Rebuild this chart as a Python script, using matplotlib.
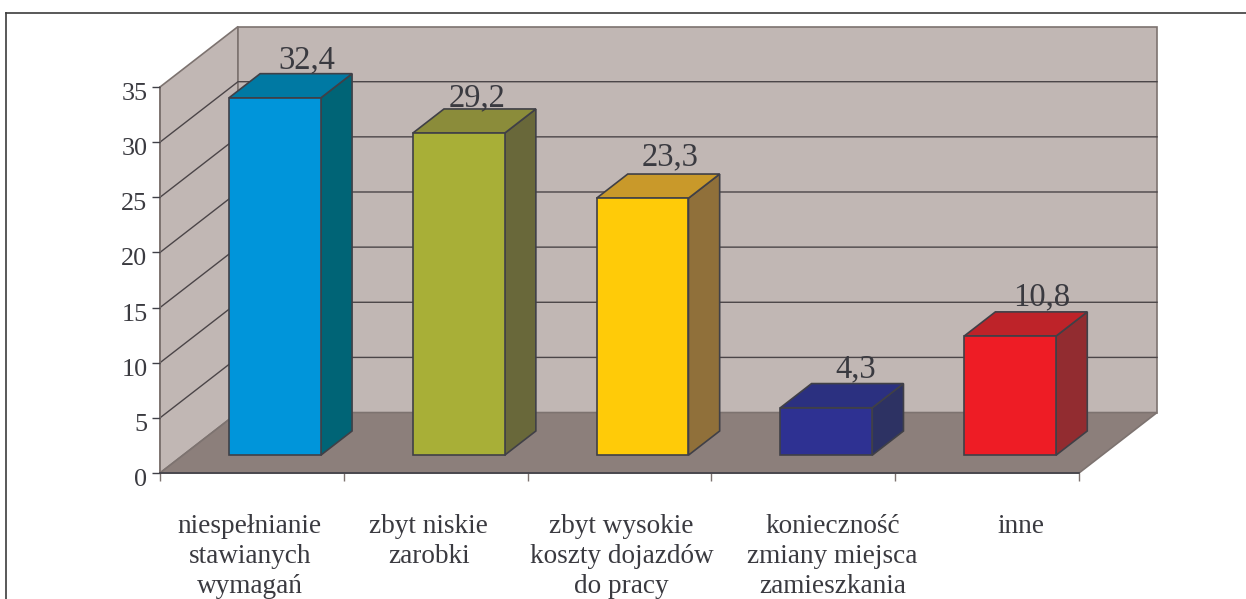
"""Pseudo-3D column chart: wall, floor and bars are projected from data units."""

import matplotlib

matplotlib.use("Agg")
import matplotlib.pyplot as plt
from matplotlib.lines import Line2D
from matplotlib.transforms import ScaledTranslation

plt.rcParams["font.family"] = ["Liberation Serif", "DejaVu Serif"]

categories = [
    "niespełnianie\nstawianych\nwymagań",
    "zbyt niskie\nzarobki",
    "zbyt wysokie\nkoszty dojazdów\ndo pracy",
    "konieczność\nzmiany miejsca\nzamieszkania",
    "inne",
]
values = [32.4, 29.2, 23.3, 4.3, 10.8]
labels = ["32,4", "29,2", "23,3", "4,3", "10,8"]
yticks = [0, 5, 10, 15, 20, 25, 30, 35]

front_colors = ["#0095da", "#a8af37", "#ffcb08", "#2e3192", "#ee1c25"]
top_colors = ["#0079a3", "#8b8c3a", "#c9992a", "#2b3080", "#be2329"]
side_colors = ["#006476", "#69683a", "#90703a", "#2d3263", "#922c30"]

WALL = "#c1b7b4"
FLOOR = "#8c7f7b"
EDGE = "#404047"
WALL_EDGE = "#7d7370"
TEXT = "#3a3a40"

# depth vector of the whole plot box, in slots and value units
DEPTH_X = 0.4244
DEPTH_Y = 5.48
BAR_WIDTH = 0.5
BAR_NEAR = 0.295
BAR_FAR = 0.695
# small hand nudges of the text (pixels)
label_dx = [1, -13, -4, -2, 0]
label_dy = [5, 3, 9, 6, 7]
category_dx = [-2, -7, 2, 29, 34]


def proj(x, y, d):
    return x + d * DEPTH_X, y + d * DEPTH_Y


def face(ax, corners, color, edge, lw=1.2, zorder=2):
    xs, ys = zip(*[proj(*c) for c in corners])
    ax.fill(xs, ys, facecolor=color, edgecolor=edge, linewidth=lw,
            joinstyle="miter", clip_on=False, zorder=zorder)


W, H = 1246, 599
fig = plt.figure(figsize=(W / 100, H / 100), dpi=100, facecolor="white")
ax = fig.add_axes([160 / W, 1 - 473 / H, 919 / W, 386 / H])
ax.set_xlim(0, len(categories))
ax.set_ylim(0, 35)
ax.patch.set_visible(False)
for side in ("top", "right"):
    ax.spines[side].set_visible(False)
ax.spines["left"].set_color(WALL_EDGE)
ax.spines["left"].set_linewidth(1.2)
ax.spines["bottom"].set_color(EDGE)
ax.spines["bottom"].set_linewidth(1.2)
ax.spines["left"].set_zorder(1.5)

n = len(categories)
top = yticks[-1]

# walls and floor
face(ax, [(0, 0, 0), (0, top, 0), (0, top, 1), (0, 0, 1)], WALL, WALL_EDGE, zorder=1)
face(ax, [(0, 0, 1), (0, top, 1), (n, top, 1), (n, 0, 1)], WALL, WALL_EDGE, zorder=1)
face(ax, [(0, 0, 0), (0, 0, 1), (n, 0, 1), (n, 0, 0)], FLOOR, WALL_EDGE, zorder=1.2)

# gridlines run along the side wall and then the back wall
for t in yticks[1:-1]:
    xs, ys = zip(proj(0, t, 0), proj(0, t, 1), proj(n, t, 1))
    ax.plot(xs, ys, color="#4b4548", lw=1.0, clip_on=False, zorder=1.1)

for i, val in enumerate(values):
    x0 = i + 0.5 - BAR_WIDTH / 2
    x1 = i + 0.5 + BAR_WIDTH / 2
    base = 0
    face(ax, [(x1, base, BAR_NEAR), (x1, base, BAR_FAR), (x1, val, BAR_FAR), (x1, val, BAR_NEAR)],
         side_colors[i], EDGE)
    face(ax, [(x0, val, BAR_NEAR), (x0, val, BAR_FAR), (x1, val, BAR_FAR), (x1, val, BAR_NEAR)],
         top_colors[i], EDGE)
    face(ax, [(x0, base, BAR_NEAR), (x0, val, BAR_NEAR), (x1, val, BAR_NEAR), (x1, base, BAR_NEAR)],
         front_colors[i], EDGE)
    ax.annotate(labels[i], proj(i + 0.5, val, BAR_FAR),
                xytext=(label_dx[i] * 0.72, label_dy[i] * 0.72), textcoords="offset points",
                ha="center", va="baseline", fontsize=23.5, color=TEXT,
                annotation_clip=False, zorder=3)

ax.set_yticks(yticks)
ax.set_xticks(range(n + 1))
ax.set_xticklabels([])
ax.tick_params(axis="y", length=6, width=1.0, color=EDGE, pad=3, labelsize=18.8, labelcolor=TEXT)
ax.tick_params(axis="x", length=6, width=1.0, color=WALL_EDGE)
for tl in ax.get_yticklabels():
    tl.set_transform(tl.get_transform() + ScaledTranslation(0, -4.5 / 100, fig.dpi_scale_trans))

for i, name in enumerate(categories):
    for j, line in enumerate(name.split("\n")):
        ax.annotate(line, (i + 0.5, 0), xytext=(category_dx[i] * 0.72, -(43.4 + j * 21.6)),
                    textcoords="offset points", ha="center", va="baseline",
                    fontsize=19.6, color=TEXT, annotation_clip=False)

# page frame, open at the right and the bottom
for xs, ys in (([6, 6], [0, H - 13]), ([6, W], [H - 13, H - 13])):
    fig.add_artist(Line2D([x / W for x in xs], [y / H for y in ys], color="#3c3c3c", lw=1.2))

fig.savefig("out.png", dpi=100)
